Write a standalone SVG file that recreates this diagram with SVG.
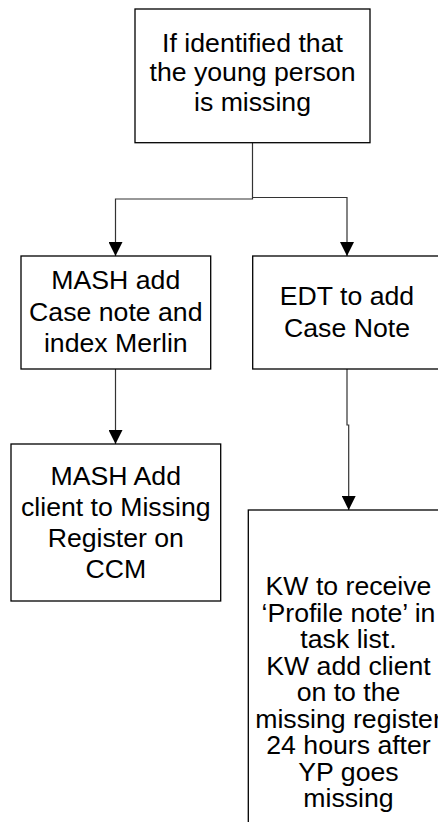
<svg xmlns="http://www.w3.org/2000/svg" width="438" height="822" viewBox="0 0 438 822">
<style>
.box{fill:#fff;stroke:#000;stroke-width:1.3}
.t{font-family:"Liberation Sans",Arial,sans-serif;font-size:26.67px;fill:#000;text-anchor:middle}
.c{fill:none;stroke:#333;stroke-width:1.2}
</style>
<defs>
<marker id="ah" viewBox="0 0 14 14" refX="14" refY="7" markerWidth="14" markerHeight="14" markerUnits="userSpaceOnUse" orient="auto">
<path d="M0,0 L14,7 L0,14 z" fill="#000"/>
</marker>
</defs>
<rect width="438" height="822" fill="#fff"/>
<g id="connectors">
<path class="c" d="M252.5,143 V199 H115.5 V256" marker-end="url(#ah)"/>
<path class="c" d="M252.5,197.5 H347 V256" marker-end="url(#ah)"/>
<path class="c" d="M115.5,369 V444" marker-end="url(#ah)"/>
<path class="c" d="M347,369 V425 H348.7 V510" marker-end="url(#ah)"/>
</g>
<g id="node-start">
<rect class="box" x="135" y="9" width="235" height="133.7"/>
<text class="t" x="252.5" y="51.5">If identified that</text>
<text class="t" x="252.5" y="81">the young person</text>
<text class="t" x="252.5" y="110.5">is missing</text>
</g>
<g id="node-mash">
<rect class="box" x="21" y="256" width="189.7" height="113"/>
<text class="t" x="115.8" y="289">MASH add</text>
<text class="t" x="115.8" y="320.5">Case note and</text>
<text class="t" x="115.8" y="352">index Merlin</text>
</g>
<g id="node-edt">
<rect class="box" x="252.7" y="256" width="190" height="113"/>
<text class="t" x="347" y="305">EDT to add</text>
<text class="t" x="347" y="336.5">Case Note</text>
</g>
<g id="node-mash-register">
<rect class="box" x="11" y="444" width="209.7" height="157"/>
<text class="t" x="115.8" y="485">MASH Add</text>
<text class="t" x="115.8" y="516">client to Missing</text>
<text class="t" x="115.8" y="547">Register on</text>
<text class="t" x="115.8" y="578">CCM</text>
</g>
<g id="node-kw">
<rect class="box" x="248.3" y="510" width="200" height="330"/>
<text class="t" x="348.5" y="595">KW to receive</text>
<text class="t" x="348.5" y="621.5">‘Profile note’ in</text>
<text class="t" x="348.5" y="648">task list.</text>
<text class="t" x="348.5" y="674.5">KW add client</text>
<text class="t" x="348.5" y="701">on to the</text>
<text class="t" x="348.5" y="727.5">missing register</text>
<text class="t" x="348.5" y="754">24 hours after</text>
<text class="t" x="348.5" y="780.5">YP goes</text>
<text class="t" x="348.5" y="807">missing</text>
</g>
</svg>
